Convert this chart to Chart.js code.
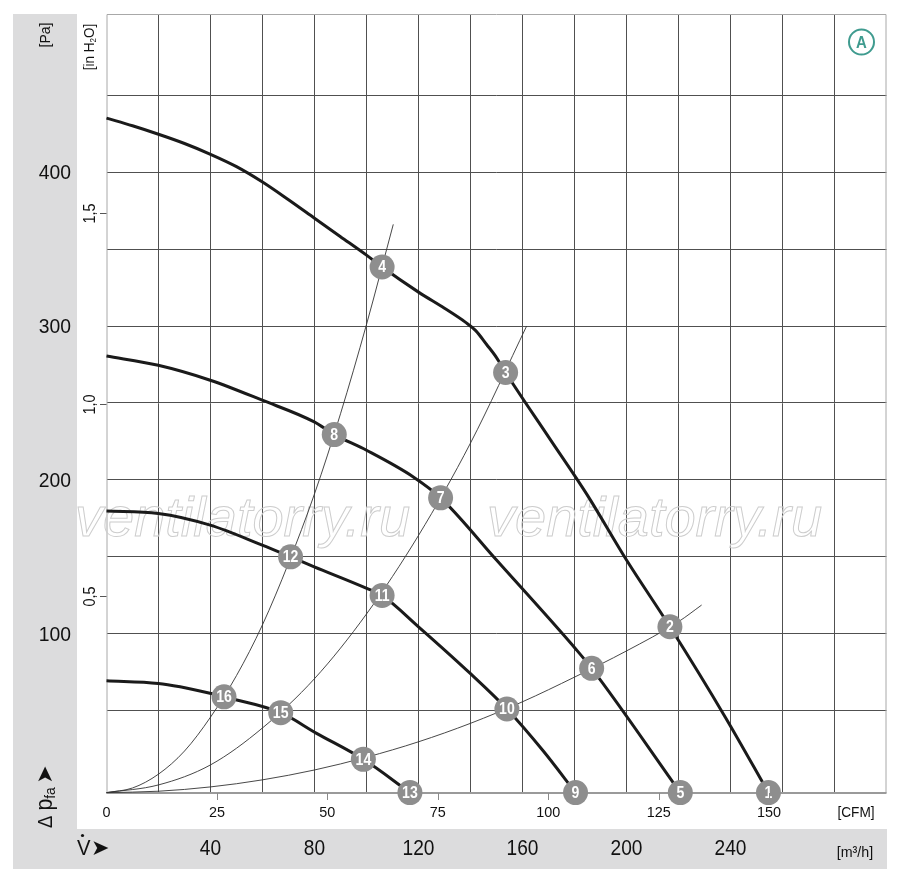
<!DOCTYPE html>
<html><head><meta charset="utf-8">
<script src="https://cdn.jsdelivr.net/npm/chart.js@4.4.1/dist/chart.umd.min.js"></script>
<style>html,body{margin:0;padding:0;background:#fff;}canvas{display:block;}</style>
</head><body>
<canvas id="c" width="900" height="880"></canvas>
<script>
// ---------- DATA (flow in m³/h, pressure in Pa) ----------
// Fan speed curves (thick)
const speedAFlow = [0, 10, 20, 30, 40, 50, 60, 70, 80, 90, 100, 106, 120, 130, 138, 142, 146.2, 150, 153.5, 170, 185, 200, 216.7, 238, 254.6];
const speedAPa   = [435, 430, 424.5, 418.5, 411.5, 403.5, 393.5, 382, 370, 358, 346, 338.3, 322, 311.5, 302.5, 297, 288, 279.5, 269.8, 228, 190, 148, 104.7, 46, -3];
const speedBFlow = [0, 19.9, 39.9, 59.9, 79.9, 87.6, 100, 118, 128.5, 150, 180.8, 186.6, 220.7];
const speedBPa   = [280.5, 274.5, 264.8, 251.8, 237.7, 229.5, 219.3, 202, 188.4, 148, 89.6, 77.7, -3];
const speedCFlow = [0, 19.9, 39.9, 59.9, 70.8, 79.9, 100.1, 106, 120, 139.9, 154, 168, 180.4];
const speedCPa   = [179.8, 178.3, 170.7, 157.7, 150.1, 143.6, 129.6, 125, 104.7, 74.4, 51.3, 24, -3];
const speedDFlow = [0, 19.9, 28.3, 39.8, 45.2, 67, 80.8, 98.8, 116.7];
const speedDPa   = [69.6, 67.9, 65.7, 61.5, 59.2, 48.9, 35.5, 18.6, -3];
// System resistance curves (thin)
const sys1Flow = [0, 10, 20, 30, 40, 50, 60, 70, 80, 90, 100, 110.3];
const sys1Pa   = [-3, 0, 9, 24, 46, 73, 106, 146, 191, 243, 301, 366];
const sys2Flow = [0, 20, 40, 60, 80, 100, 120, 140, 161.6];
const sys2Pa   = [-3, 2, 15, 39, 71, 113, 164, 224, 300];
const sys3Flow = [0, 20, 40, 60, 80, 100, 120, 140, 160, 180, 200, 220, 228.9];
const sys3Pa   = [-3, -2.1, 0.7, 5.3, 11.7, 20, 30, 42, 56, 72, 89, 108, 118.8];
// Operating points 1..16
const opLabels = ['1','2','3','4','5','6','7','8','9','10','11','12','13','14','15','16'];
const opFlow   = [254.6, 216.7, 153.5, 106, 220.7, 186.6, 128.5, 87.6, 180.4, 154, 106, 70.8, 116.7, 98.8, 67, 45.2];
const opPa     = [-3, 104.7, 269.8, 338.3, -3, 77.7, 188.4, 229.5, -3, 51.3, 125, 150.1, -3, 18.6, 48.9, 59.2];
// Axes / tick labels
const gridFlow = [20,40,60,80,100,120,140,160,180,200,220,240,260,280];
const gridPa = [50,100,150,200,250,300,350,400,450];
const paTicks = [100, 200, 300, 400];
const inH2OTicks = [0.5, 1.0, 1.5];
const inH2OLabels = ['0,5', '1,0', '1,5'];
const cfmTicks = [0, 25, 50, 75, 100, 125, 150];
const m3hTicks = [40, 80, 120, 160, 200, 240];
const PA_PER_INH2O = 249.089;
const M3H_PER_CFM = 1.699;

const FAM = '"Liberation Sans", Arial, sans-serif';
function fnt(size, bold){ return (bold?'bold ':'') + size + 'px ' + FAM; }
// text helper: optional rotation and horizontal condensing
function txt(ctx, s, x, y, o){
  ctx.save(); ctx.translate(x,y); if(o.rot) ctx.rotate(-Math.PI/2); ctx.scale(o.sx||1,1);
  ctx.font = o.font || fnt(o.size, o.bold); ctx.textAlign=o.align||'center'; ctx.textBaseline=o.base||'middle';
  ctx.fillText(s,0,0); ctx.restore();
}
function rotatedPieces(ctx, x, y, pieces, centered, sx){
  ctx.save();
  let total=0;
  pieces.forEach(p=>{ ctx.font=p.f; p.w=ctx.measureText(p.t).width*(p.nsx?1:sx); total+=p.w; });
  ctx.translate(x,y); ctx.rotate(-Math.PI/2);
  ctx.textAlign='left'; ctx.textBaseline='middle';
  let u = centered ? -total/2 : 0;
  pieces.forEach(p=>{
    ctx.save(); ctx.translate(u,p.dv); ctx.scale(p.nsx?1:sx,1); ctx.font=p.f; ctx.fillText(p.t,0,0); ctx.restore();
    u+=p.w;
  });
  ctx.restore();
}

const pts = (xs, ys) => xs.map((x,i)=>({x:x, y:ys[i]}));
const thick = (xs, ys) => ({data:pts(xs,ys), showLine:true, borderColor:'#1a1a1a', borderWidth:3, pointRadius:0, cubicInterpolationMode:'monotone', order:1, clip:false});
const thin = (xs, ys) => ({data:pts(xs,ys), showLine:true, borderColor:'#333', borderWidth:0.9, pointRadius:0, cubicInterpolationMode:'monotone', order:2, clip:false});

const decor = {
  id:'decor',
  beforeDraw(chart){
    const ctx=chart.ctx;
    ctx.save();
    ctx.fillStyle='#fff'; ctx.fillRect(0,0,chart.width,chart.height);
    ctx.fillStyle='#dcdcdd';
    ctx.fillRect(13,14,64,855);
    ctx.fillRect(13,829,874,40);
    ctx.restore();
  },
  beforeDatasetsDraw(chart){
    const ctx=chart.ctx, a=chart.chartArea;
    ctx.save();
    // frame
    ctx.strokeStyle='#a8a8a8'; ctx.lineWidth=1;
    ctx.beginPath();
    ctx.moveTo(a.left+0.5, a.bottom); ctx.lineTo(a.left+0.5, a.top+0.5); ctx.lineTo(a.right-0.5, a.top+0.5); ctx.lineTo(a.right-0.5, a.bottom);
    ctx.stroke();
    ctx.strokeStyle='#9a9a9a'; ctx.lineWidth=2;
    ctx.beginPath(); ctx.moveTo(a.left, a.bottom); ctx.lineTo(a.right, a.bottom); ctx.stroke();
    // watermark
    ctx.font='italic 56px "Liberation Sans", Arial, sans-serif';
    ctx.strokeStyle='#cdcdcd'; ctx.lineWidth=1;
    ctx.textBaseline='alphabetic'; ctx.textAlign='left';
    ctx.strokeText('ventilatorry.ru', 75, 536);
    ctx.strokeText('ventilatorry.ru', 487, 536);
    ctx.restore();
  },
  afterDatasetsDraw(chart){
    const ctx=chart.ctx;
    ctx.save();
    const meta=chart.getDatasetMeta(chart.data.datasets.length-1);
    ctx.fillStyle='#fff';
    meta.data.forEach((el,i)=>{ txt(ctx, opLabels[i], el.x, el.y+1, {size:16, bold:true, sx:0.88}); });
    ctx.restore();
  },
  afterDraw(chart){
    const ctx=chart.ctx, xs=chart.scales.x, ys=chart.scales.y, a=chart.chartArea;
    ctx.save();
    ctx.fillStyle='#111';
    // Pa labels
    paTicks.forEach(v=>txt(ctx, String(v), 71, ys.getPixelForValue(v)+1, {size:21, sx:0.92, align:'right'}));
    // inH2O ticks + labels
    ctx.strokeStyle='#555'; ctx.lineWidth=1;
    inH2OTicks.forEach((v,i)=>{
      const y=Math.round(ys.getPixelForValue(v*PA_PER_INH2O))+0.5;
      ctx.beginPath(); ctx.moveTo(100,y); ctx.lineTo(a.left,y); ctx.stroke();
      txt(ctx, inH2OLabels[i], 91, y, {size:16, sx:0.9, rot:true});
    });
    // [Pa]
    txt(ctx, '[Pa]', 46, 35, {size:15.5, sx:0.9, rot:true});
    // [in H2O]
    rotatedPieces(ctx, 90, 47, [
      {t:'[in H', f:fnt(15), dv:0},
      {t:'2', f:fnt(9), dv:4},
      {t:'O]', f:fnt(15), dv:0}], true, 0.9);
    // Δ p_fa arrow
    rotatedPieces(ctx, 46, 828, [
      {t:'\u0394 ', f:fnt(20), dv:0},
      {t:'p', f:fnt(23), dv:0},
      {t:'fa', f:fnt(15), dv:5},
      {t:' ', f:fnt(14), dv:0},
      {t:'\u27A4', f:'22px "DejaVu Sans", sans-serif', dv:0, nsx:true}], false, 0.92);
    // CFM ticks and labels
    ctx.strokeStyle='#8a8a8a'; ctx.lineWidth=1;
    cfmTicks.forEach(c=>{
      const x=xs.getPixelForValue(c*M3H_PER_CFM);
      if(c>0){ ctx.beginPath(); ctx.moveTo(Math.round(x)+0.5,a.bottom); ctx.lineTo(Math.round(x)+0.5,a.bottom+7); ctx.stroke(); }
      txt(ctx, String(c), x, 813, {size:15.5, sx:0.93});
    });
    txt(ctx, '[CFM]', 856, 813, {size:15.5, sx:0.88});
    // m3/h labels
    m3hTicks.forEach(v=>txt(ctx, String(v), xs.getPixelForValue(v), 849, {size:22, sx:0.87}));
    txt(ctx, '[m\u00B3/h]', 855, 853, {size:15.5, sx:0.92});
    // V dot arrow
    txt(ctx, 'V', 77, 849, {size:22, sx:0.92, align:'left'});
    ctx.beginPath(); ctx.arc(82.5, 835.5, 1.6, 0, Math.PI*2); ctx.fill();
    txt(ctx, '\u27A4', 91, 849, {font:'22px "DejaVu Sans", sans-serif', align:'left'});
    // A badge
    ctx.strokeStyle='#3f9b8f'; ctx.lineWidth=2;
    ctx.beginPath(); ctx.arc(861.5, 42, 12.5, 0, Math.PI*2); ctx.stroke();
    ctx.fillStyle='#3f9b8f';
    txt(ctx, 'A', 861.5, 43, {size:17, bold:true, sx:0.88});
    ctx.restore();
  }
};

const gridOpts = {color:'#505050', lineWidth:1, drawTicks:false};
new Chart(document.getElementById('c'), {
  type:'scatter',
  data:{datasets:[
    thin(sys1Flow, sys1Pa), thin(sys2Flow, sys2Pa), thin(sys3Flow, sys3Pa),
    thick(speedAFlow, speedAPa), thick(speedBFlow, speedBPa), thick(speedCFlow, speedCPa), thick(speedDFlow, speedDPa),
    {data:pts(opFlow, opPa), pointRadius:12.5, pointHoverRadius:12.5, backgroundColor:'#8e8e8e', borderWidth:0, order:0, clip:false}
  ]},
  options:{
    responsive:false, animation:false, devicePixelRatio:1,
    layout:{padding:{left:106.5, top:14, right:13.5, bottom:87}},
    plugins:{legend:{display:false}, tooltip:{enabled:false}},
    scales:{
      x:{type:'linear', min:0, max:300, grid:gridOpts, border:{display:false}, ticks:{display:false},
         afterBuildTicks(s){ s.ticks = gridFlow.map(v=>({value:v})); }},
      y:{type:'linear', min:-3.25, max:502.6, grid:gridOpts, border:{display:false}, ticks:{display:false},
         afterBuildTicks(s){ s.ticks = gridPa.map(v=>({value:v})); }}
    }
  },
  plugins:[decor]
});
</script>
</body></html>
